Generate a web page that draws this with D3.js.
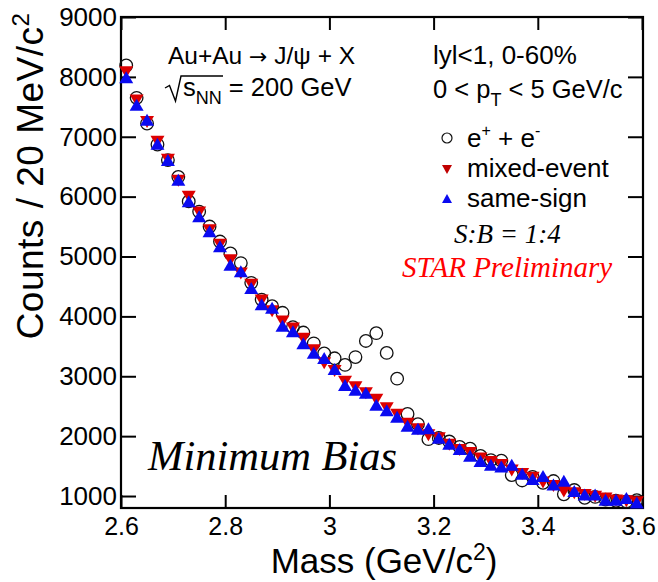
<!DOCTYPE html>
<html>
<head>
<meta charset="utf-8">
<script src="https://cdn.jsdelivr.net/npm/d3@7"></script>
<style>
  body { margin: 0; background: #fff; }
  svg { display: block; }
  text { font-family: "Liberation Sans", Arial, Helvetica, sans-serif; fill: #000; }
  .serif { font-family: "Liberation Serif", "Times New Roman", serif; font-style: italic; }
</style>
</head>
<body>
<svg id="chart" width="658" height="582"></svg>
<script>
// Invariant-mass bins (GeV/c^2), 20 MeV wide, bin centres
const mass = [2.61, 2.63, 2.65, 2.67, 2.69, 2.71, 2.73, 2.75, 2.77, 2.79,
              2.81, 2.83, 2.85, 2.87, 2.89, 2.91, 2.93, 2.95, 2.97, 2.99,
              3.01, 3.03, 3.05, 3.07, 3.09, 3.11, 3.13, 3.15, 3.17, 3.19,
              3.21, 3.23, 3.25, 3.27, 3.29, 3.31, 3.33, 3.35, 3.37, 3.39,
              3.41, 3.43, 3.45, 3.47, 3.49, 3.51, 3.53, 3.55, 3.57, 3.59];

// Unlike-sign e+e- pairs (counts per bin)
const eePairs = [8190, 7650, 7220, 6870, 6610, 6330, 5920, 5750, 5500, 5250,
                 5050, 4890, 4560, 4280, 4170, 4060, 3820, 3730, 3550, 3380,
                 3300, 3190, 3320, 3590, 3720, 3390, 2960, 2370, 2200, 1950,
                 1970, 1910, 1820, 1790, 1670, 1600, 1590, 1350, 1260, 1320,
                 1220, 1250, 1030, 1100, 970, 985, 940, 920, 910, 930];

// Mixed-event background
const mixedEvent = [8110, 7640, 7280, 6950, 6650, 6300, 6030, 5770, 5470, 5230,
                    4970, 4750, 4560, 4300, 4120, 3950, 3830, 3660, 3470, 3250,
                    3120, 2940, 2850, 2750, 2640, 2500, 2390, 2240, 2150, 2050,
                    2000, 1890, 1800, 1750, 1660, 1600, 1550, 1460, 1400, 1340,
                    1260, 1200, 1110, 1080, 1050, 1020, 990, 960, 945, 930];

// Like-sign (same-sign) background
const sameSign = [7960, 7500, 7250, 6850, 6580, 6250, 5890, 5640, 5390, 5140,
                  4830, 4720, 4440, 4170, 4110, 3810, 3720, 3520, 3360, 3270,
                  3090, 2820, 2740, 2690, 2490, 2400, 2290, 2140, 2090, 2100,
                  1940, 1840, 1750, 1640, 1550, 1490, 1460, 1490, 1340, 1250,
                  1300, 1160, 1220, 1050, 990, 990, 905, 905, 935, 860];

const xTicks = [2.6, 2.8, 3.0, 3.2, 3.4, 3.6];
const xTickLabels = ["2.6", "2.8", "3", "3.2", "3.4", "3.6"];
const yTicks = [1000, 2000, 3000, 4000, 5000, 6000, 7000, 8000, 9000];
const yTickLabels = ["1000", "2000", "3000", "4000", "5000", "6000", "7000", "8000", "9000"];

const RED = "#dd0000";
const BLUE = "#0a0af0";

const svg = d3.select("#chart");
const frame = { left: 121, right: 642, top: 17, bottom: 508 };

const x = d3.scaleLinear().domain([2.6, 3.6]).range([frame.left, frame.right]);
const y = d3.scaleLinear().domain([800, 9000]).range([frame.bottom, frame.top]);

// Axes: ticks point inward on all four sides
const gx = svg.append("g").attr("transform", `translate(0,${frame.bottom})`)
  .call(d3.axisBottom(x).tickValues(xTicks).tickFormat((d, i) => xTickLabels[i])
        .tickSizeInner(-13).tickSizeOuter(0).tickPadding(9));
const gxTop = svg.append("g").attr("transform", `translate(0,${frame.top})`)
  .call(d3.axisTop(x).tickValues(xTicks).tickFormat("")
        .tickSizeInner(-13).tickSizeOuter(0));
const gy = svg.append("g").attr("transform", `translate(${frame.left},0)`)
  .call(d3.axisLeft(y).tickValues(yTicks).tickFormat((d, i) => yTickLabels[i])
        .tickSizeInner(-15).tickSizeOuter(0).tickPadding(4));
const gyRight = svg.append("g").attr("transform", `translate(${frame.right},0)`)
  .call(d3.axisRight(y).tickValues(yTicks).tickFormat("")
        .tickSizeInner(-14).tickSizeOuter(0));

[gx, gxTop, gy, gyRight].forEach(g => {
  g.select(".domain").remove();
  g.selectAll(".tick line").attr("stroke", "#000").attr("stroke-width", 2);
  g.selectAll(".tick text").attr("fill", "#000")
    .style("font-family", "'Liberation Sans', Arial, sans-serif");
});
gx.selectAll(".tick text").style("font-size", "25px");
gy.selectAll(".tick text").style("font-size", "26px");
// keep the last mass label inside the page edge
gx.selectAll(".tick text").filter(d => d === 3.6).attr("dx", -4);

// Frame
svg.append("rect")
  .attr("x", frame.left).attr("y", frame.top)
  .attr("width", frame.right - frame.left + 1).attr("height", frame.bottom - frame.top)
  .attr("fill", "none").attr("stroke", "#000").attr("stroke-width", 2.2);

// Triangle marker paths centred on their centroid
function triUp(w, h) {
  return `M0,${-2 * h / 3}L${w / 2},${h / 3}L${-w / 2},${h / 3}Z`;
}
function triDown(w, h) {
  return `M0,${2 * h / 3}L${w / 2},${-h / 3}L${-w / 2},${-h / 3}Z`;
}

const plot = svg.append("g");

// e+e- pairs: open circles
plot.selectAll("circle.ee").data(mass).join("circle")
  .attr("class", "ee")
  .attr("cx", d => x(d))
  .attr("cy", (d, i) => y(eePairs[i]))
  .attr("r", 6.3)
  .attr("fill", "none")
  .attr("stroke", "#111")
  .attr("stroke-width", 1.3);

// mixed-event: red down triangles
plot.selectAll("path.me").data(mass).join("path")
  .attr("class", "me")
  .attr("d", triDown(14, 12))
  .attr("transform", (d, i) => `translate(${x(d)},${y(mixedEvent[i])})`)
  .attr("fill", RED);

// same-sign: blue up triangles
plot.selectAll("path.ss").data(mass).join("path")
  .attr("class", "ss")
  .attr("d", triUp(14, 12))
  .attr("transform", (d, i) => `translate(${x(d)},${y(sameSign[i])})`)
  .attr("fill", BLUE);

// Axis titles
const yTitle = svg.append("text")
  .attr("transform", "rotate(-90)")
  .attr("x", -176).attr("y", 43)
  .attr("text-anchor", "middle")
  .style("font-size", "37px")
  .style("letter-spacing", "0.5px");
yTitle.append("tspan").text("Counts / 20 MeV/c");
yTitle.append("tspan").attr("dy", -14).style("font-size", "24px").text("2");

const xTitle = svg.append("text")
  .attr("x", 384).attr("y", 573)
  .attr("text-anchor", "middle")
  .style("font-size", "35px");
xTitle.append("tspan").text("Mass (GeV/c");
xTitle.append("tspan").attr("dy", -13).style("font-size", "23px").text("2");
xTitle.append("tspan").attr("dy", 13).text(")");

// Reaction and kinematic labels
const reac = svg.append("text").attr("x", 168).attr("y", 64).style("font-size", "24.5px");
reac.append("tspan").text("Au+Au ");
reac.append("tspan").style("font-family", "'DejaVu Sans', sans-serif").style("font-size", "22px").text("\u2192");
reac.append("tspan").text(" J/\u03c8 + X");

const sq = svg.append("text").attr("x", 183).attr("y", 96).style("font-size", "25.5px");
sq.append("tspan").text("s");
sq.append("tspan").attr("dy", 8).style("font-size", "18px").text("NN");
sq.append("tspan").attr("dy", -8).text(" = 200 GeV");
// radical sign over s_NN
svg.append("path")
  .attr("d", "M165,88 L169.5,85.5 L175.5,101 L181,76 L223,76")
  .attr("fill", "none").attr("stroke", "#000").attr("stroke-width", 1.4);

svg.append("text").attr("x", 433).attr("y", 64).style("font-size", "26px")
  .text("lyl<1, 0-60%");

const pt = svg.append("text").attr("x", 433).attr("y", 98).style("font-size", "25.5px");
pt.append("tspan").text("0 < p");
pt.append("tspan").attr("dy", 8).style("font-size", "18px").text("T");
pt.append("tspan").attr("dy", -8).text(" < 5 GeV/c");

// Legend
const lx = 447;
svg.append("circle").attr("cx", lx).attr("cy", 138).attr("r", 5)
  .attr("fill", "none").attr("stroke", "#111").attr("stroke-width", 1.2);
const eeLab = svg.append("text").attr("x", 467).attr("y", 147).style("font-size", "26px");
eeLab.append("tspan").text("e");
eeLab.append("tspan").attr("dy", -11).style("font-size", "16px").text("+");
eeLab.append("tspan").attr("dy", 11).text(" + e");
eeLab.append("tspan").attr("dy", -11).style("font-size", "16px").text("-");

svg.append("path").attr("d", triDown(10, 9))
  .attr("transform", `translate(${lx},168)`).attr("fill", "#c00000");
svg.append("text").attr("x", 467).attr("y", 177).style("font-size", "26px").text("mixed-event");

svg.append("path").attr("d", triUp(10, 9))
  .attr("transform", `translate(${lx},200)`).attr("fill", BLUE);
svg.append("text").attr("x", 467).attr("y", 207).style("font-size", "26px").text("same-sign");

svg.append("text").attr("class", "serif").attr("x", 454).attr("y", 243)
  .style("font-size", "27px").text("S:B = 1:4");

svg.append("text").attr("class", "serif").attr("x", 402).attr("y", 277)
  .style("font-size", "29px").style("fill", "#ff0000")
  .text("STAR Preliminary");

svg.append("text").attr("class", "serif").attr("x", 148).attr("y", 470)
  .style("font-size", "42.5px").text("Minimum Bias");
</script>
</body>
</html>
